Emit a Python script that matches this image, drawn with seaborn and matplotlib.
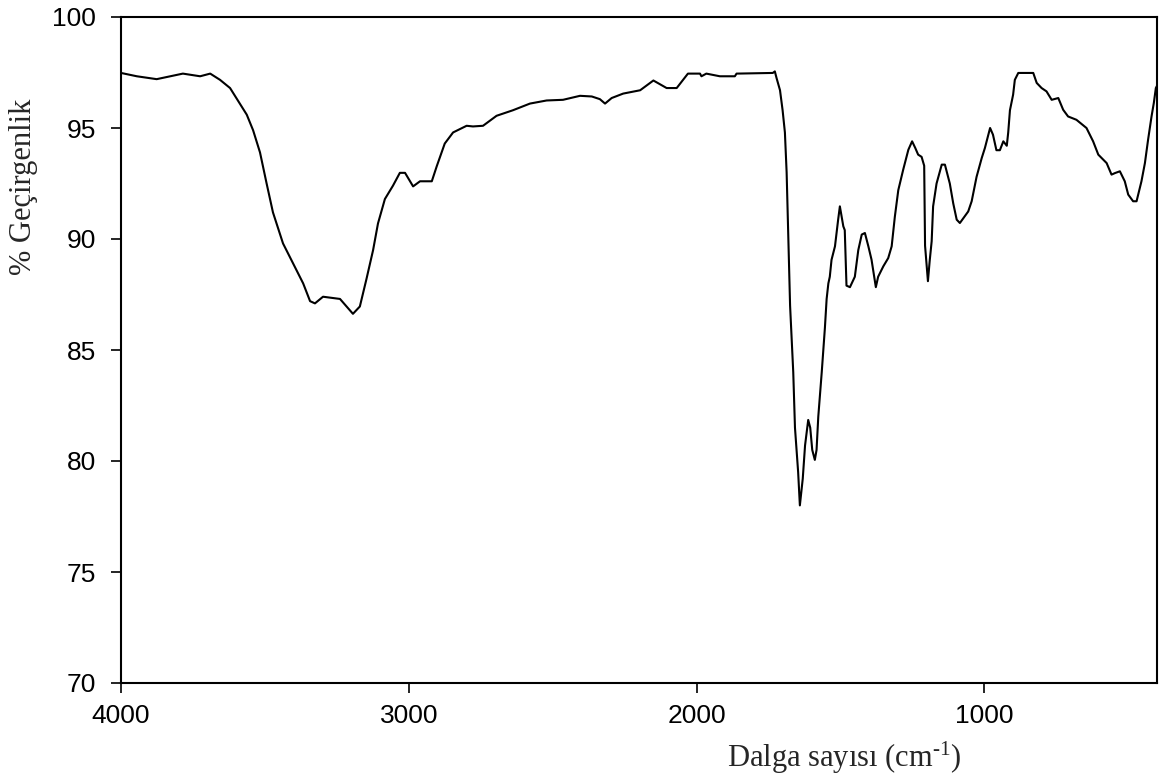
import matplotlib
matplotlib.use("Agg")
import matplotlib.pyplot as plt
import seaborn as sns
import pandas as pd

# Wavenumber (cm-1) and % transmittance
wavenumber = [4000, 3945, 3876, 3785, 3725, 3690, 3656, 3621, 3587, 3563, 3541, 3517,
              3494, 3472, 3437, 3402, 3367, 3343, 3326, 3298, 3239, 3216, 3194, 3170,
              3147, 3124, 3107, 3083, 3055, 3031, 3013, 2985, 2961, 2920, 2903, 2875,
              2846, 2799, 2777, 2742, 2695, 2638, 2579, 2521, 2464, 2405, 2364, 2336,
              2318, 2295, 2255, 2196, 2150, 2104, 2069, 2030, 1988, 1983, 1966, 1919,
              1867, 1861, 1735, 1728, 1722, 1710, 1701, 1693, 1687, 1681, 1675, 1664,
              1658, 1647, 1641, 1636, 1631, 1623, 1612, 1605, 1598, 1589, 1583, 1577,
              1565, 1554, 1548, 1542, 1537, 1531, 1519, 1508, 1502, 1490, 1485, 1479,
              1467, 1450, 1438, 1426, 1415, 1403, 1392, 1377, 1369, 1351, 1334, 1322,
              1311, 1299, 1282, 1264, 1251, 1240, 1230, 1218, 1209, 1206, 1196, 1190,
              1183, 1178, 1166, 1148, 1137, 1120, 1108, 1096, 1085, 1056, 1044, 1027,
              1009, 998, 980, 970, 958, 946, 934, 922, 917, 911, 900, 894, 882, 830,
              818, 801, 784, 766, 743, 726, 709, 680, 645, 622, 604, 575, 558, 546,
              529, 512, 500, 483, 471, 454, 442, 431, 419, 411, 404, 400]
transmittance = [97.48, 97.33, 97.20, 97.45, 97.33, 97.45, 97.17, 96.80, 96.10, 95.60, 94.90, 93.90,
                 92.50, 91.20, 89.80, 88.90, 88.00, 87.20, 87.10, 87.40, 87.30, 86.96, 86.63, 86.96,
                 88.20, 89.50, 90.70, 91.80, 92.40, 92.98, 92.98, 92.37, 92.60, 92.60, 93.27, 94.30,
                 94.80, 95.10, 95.07, 95.10, 95.55, 95.80, 96.10, 96.24, 96.27, 96.45, 96.42, 96.30,
                 96.10, 96.35, 96.55, 96.70, 97.14, 96.80, 96.80, 97.45, 97.45, 97.33, 97.45, 97.33,
                 97.33, 97.45, 97.48, 97.55, 97.25, 96.70, 95.80, 94.80, 93.00, 90.00, 87.00, 84.00,
                 81.50, 79.50, 78.00, 78.60, 79.20, 80.70, 81.85, 81.50, 80.50, 80.05, 80.50, 82.00,
                 84.00, 86.00, 87.30, 88.00, 88.30, 89.06, 89.67, 90.87, 91.47, 90.57, 90.40, 87.90,
                 87.83, 88.30, 89.50, 90.20, 90.27, 89.67, 89.07, 87.83, 88.30, 88.77, 89.14, 89.67,
                 91.00, 92.20, 93.12, 94.02, 94.40, 94.10, 93.80, 93.70, 93.30, 89.70, 88.10, 89.00,
                 89.90, 91.47, 92.50, 93.35, 93.35, 92.50, 91.60, 90.87, 90.72, 91.24, 91.70, 92.80,
                 93.65, 94.10, 95.00, 94.70, 94.00, 94.00, 94.40, 94.20, 94.80, 95.80, 96.50, 97.17, 97.48, 97.48,
                 97.03, 96.80, 96.65, 96.27, 96.35, 95.82, 95.52, 95.37, 95.00, 94.40, 93.80, 93.42, 92.90, 92.97,
                 93.05, 92.60, 92.00, 91.70, 91.70, 92.60, 93.42, 94.47, 95.52, 96.13, 96.80, 96.90]

x_ticks = [4000, 3000, 2000, 1000]
y_ticks = [70, 75, 80, 85, 90, 95, 100]
x_label = "Dalga sayısı (cm$^{\\text{-1}}$)"
y_label = "% Geçirgenlik"

sns.set_style("ticks")
plt.rcParams["font.family"] = ["Liberation Sans", "DejaVu Sans"]
plt.rcParams["mathtext.fontset"] = "custom"
plt.rcParams["mathtext.rm"] = "Liberation Serif"
plt.rcParams["mathtext.it"] = "Liberation Serif:italic"
plt.rcParams["mathtext.default"] = "rm"

df = pd.DataFrame({"wn": wavenumber, "T": transmittance})

fig = plt.figure(figsize=(11.66, 7.8), dpi=100)
ax = fig.add_axes([121 / 1166, 1 - 683 / 780, 1036 / 1166, 666 / 780])
sns.lineplot(data=df, x="wn", y="T", sort=False, estimator=None, color="black",
             linewidth=1.5, ax=ax)

ax.set_xlim(4000, 400)
ax.set_ylim(70, 100)
ax.set_xticks(x_ticks)
ax.set_yticks(y_ticks)
ax.tick_params(axis="both", direction="out", length=7.2, width=1.2, colors="black",
               labelsize=19, top=False, right=False)
ax.tick_params(axis="x", pad=8)
ax.tick_params(axis="y", pad=11)
for s in ax.spines.values():
    s.set_visible(True)
    s.set_linewidth(1.5)
    s.set_color("black")

ax.set_xlabel(x_label, fontsize=22, family=["Liberation Serif", "DejaVu Serif"],
              va="baseline", ha="center")
ax.xaxis.set_label_coords((844 - 121) / 1036, -(767 - 683) / 666)
ax.set_ylabel(y_label, fontsize=22, family=["Liberation Serif", "DejaVu Serif"],
              va="center", ha="center")
ax.yaxis.set_label_coords((23.5 - 121) / 1036, (683 - 187) / 666)

fig.savefig("out.png", dpi=100, facecolor="white")
